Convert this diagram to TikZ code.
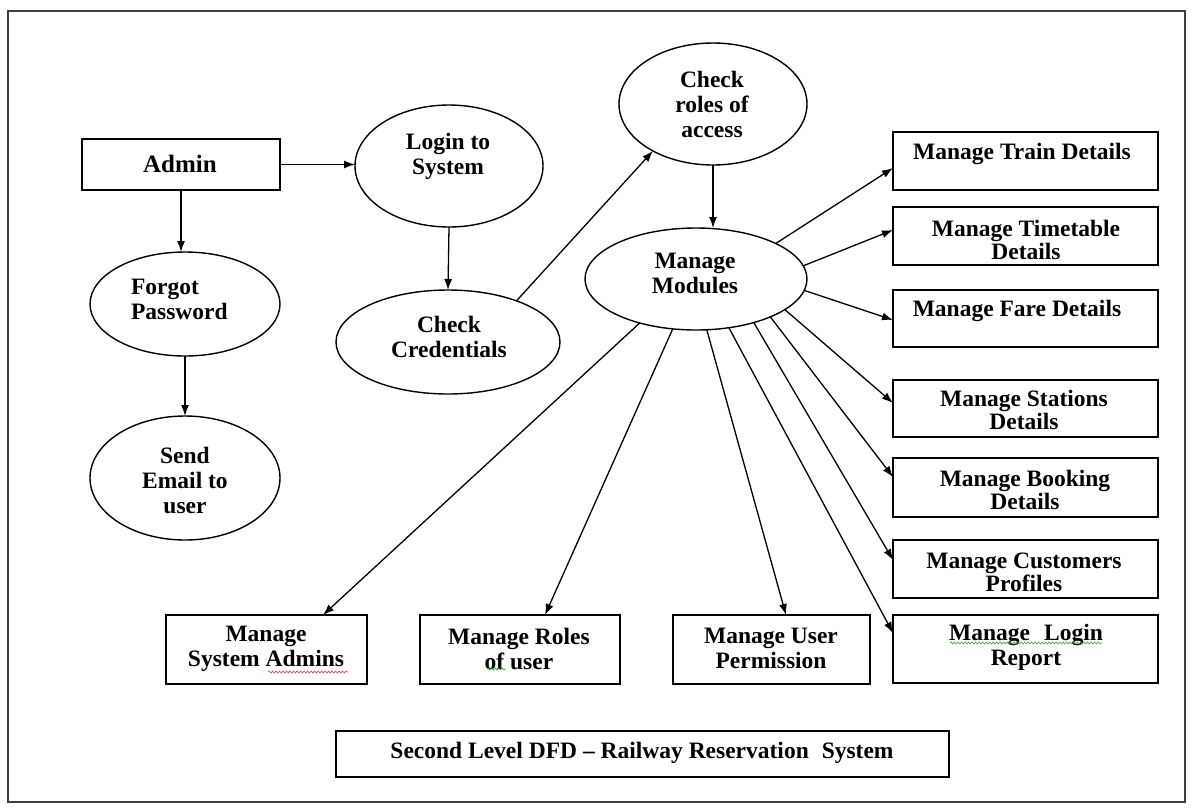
\documentclass[tikz,border=0pt]{standalone}
\usepackage{fontspec}
\setmainfont{Liberation Serif}
\usetikzlibrary{arrows.meta,calc,shapes.geometric,decorations.pathmorphing}

\definecolor{spellred}{RGB}{205,70,70}
\definecolor{spellgreen}{RGB}{70,160,70}

\begin{document}
\begin{tikzpicture}[x=1pt,y=-1pt,
  every node/.style={inner sep=0pt, outer sep=0pt},
  proc/.style={draw, ellipse, line width=1.4pt},
  store/.style={draw, rectangle, line width=1.6pt},
  lbl/.style={font=\fontsize{23.5}{25}\selectfont\bfseries, align=center},
  rlbl/.style={font=\fontsize{23.5}{23}\selectfont\bfseries, align=center},
  flow/.style={line width=1.3pt, -{Latex[length=11pt,width=8pt]}},
  spell/.style={decorate, decoration={snake, amplitude=1.1pt, segment length=3.5pt}, line width=0.6pt}
]
\useasboundingbox (0,0) rectangle (1192,807);
\draw[line width=1.5pt, black!75] (8,11) rectangle (1185,802);

% external entity
\node[store, minimum width=198pt, minimum height=51pt] (admin) at (181,164.5) {};
\node[lbl, font=\fontsize{25}{27}\selectfont\bfseries] (admin-t) at (180,164) {Admin};

% processes
\node[proc, minimum width=188pt, minimum height=122pt] (login) at (449,166) {};
\node[lbl] (login-t) at (448,156) {Login to\\System};
\node[proc, minimum width=224pt, minimum height=104pt] (cred) at (448,342) {};
\node[lbl] (cred-t) at (449,337) {Check\\Credentials};
\node[proc, minimum width=190pt, minimum height=104pt] (forgot) at (185,304) {};
\node[lbl, align=left, anchor=west] (forgot-t) at (131,299) {Forgot\\Password};
\node[proc, minimum width=190pt, minimum height=124pt] (send) at (185,478) {};
\node[lbl] (send-t) at (185,480) {Send\\Email to\\user};
\node[proc, minimum width=188pt, minimum height=122pt] (roles) at (713,104) {};
\node[lbl] (roles-t) at (712,104) {Check\\roles of\\access};
\node[proc, minimum width=222pt, minimum height=102pt] (mod) at (696,279) {};
\node[lbl] (mod-t) at (695,273) {Manage\\Modules};

% module boxes on the right
\node[store, minimum width=265pt, minimum height=58pt] (train) at (1025.5,161) {};
\node[rlbl] (train-t) at (1022,154) {Manage Train Details};
\node[store, minimum width=265pt, minimum height=58pt] (time) at (1025.5,236) {};
\node[rlbl] (time-t) at (1026,239.5) {Manage Timetable\\Details};
\node[store, minimum width=265pt, minimum height=57pt] (fare) at (1025.5,318.5) {};
\node[rlbl] (fare-t) at (1017,311) {Manage Fare Details};
\node[store, minimum width=265pt, minimum height=57pt] (stat) at (1025.5,408.5) {};
\node[rlbl] (stat-t) at (1024,410) {Manage Stations\\Details};
\node[store, minimum width=265pt, minimum height=59pt] (book) at (1025.5,487.5) {};
\node[rlbl] (book-t) at (1025,490) {Manage Booking\\Details};
\node[store, minimum width=265pt, minimum height=58pt] (cust) at (1025.5,569) {};
\node[rlbl] (cust-t) at (1024,572) {Manage Customers\\Profiles};
\node[store, minimum width=265pt, minimum height=68pt] (lrep) at (1025.5,649) {};
\node[lbl] (lrep-t) at (1026,647) {Manage\hspace{0.35em} Login\\Report};

% module boxes at the bottom
\node[store, minimum width=201pt, minimum height=69pt] (sadm) at (266.5,649.5) {};
\node[lbl] (sadm-t) at (266,648.5) {Manage\\System Admins};
\node[store, minimum width=200pt, minimum height=69pt] (urole) at (520,649.5) {};
\node[lbl] (urole-t) at (519,648.5) {Manage Roles\\of user};
\node[store, minimum width=197pt, minimum height=69pt] (perm) at (771.5,649.5) {};
\node[lbl] (perm-t) at (771,648.5) {Manage User\\Permission};

% caption box
\node[store, minimum width=613pt, minimum height=46pt] (title) at (642.5,754) {};
\node[lbl] (title-t) at (642,753) {Second Level DFD -- Railway Reservation\hspace{0.3em} System};

% spelling marks under words
\draw[spell, spellred] (268,672) -- (348,672);
\draw[spell, spellgreen] (487,669) -- (506,669);
\draw[spell, spellgreen] (950,643) -- (1102,643);

% data flows
\draw[flow] (admin.east) -- (admin.east -| login.west);
\draw[flow] (admin.south) -- (admin.south |- forgot.north);
\draw[flow] (forgot.south) -- (forgot.south |- send.north);
\draw[flow] (login.south) -- (cred.north);
\draw[flow] (cred.31.4) -- (roles.218.1);
\draw[flow] (roles.south) -- (roles.south |- mod.north);

\draw[flow] (mod.24.3) -- ($(train.west)+(0,7)$);
\draw[flow] (mod.7.2) -- ($(time.west)+(0,-6)$);
\draw[flow] (mod.-6.7) -- ($(fare.west)+(0,1.5)$);
\draw[flow] (mod.-19.3) -- ($(stat.west)+(0,-5.5)$);
\draw[flow] (mod.-27.7) -- ($(book.west)+(0,-10.5)$);
\draw[flow] (mod.-37.5) -- ($(cust.west)+(0,-9)$);
\draw[flow] (mod.-56.6) -- ($(lrep.west)+(0,-16)$);
\draw[flow] (mod.-78.5) -- ($(perm.north)+(14.5,0)$);
\draw[flow] (mod.-115.3) -- ($(urole.north)+(25,0)$);
\draw[flow] (mod.-142.8) -- ($(sadm.north)+(56.5,0)$);
\end{tikzpicture}
\end{document}
